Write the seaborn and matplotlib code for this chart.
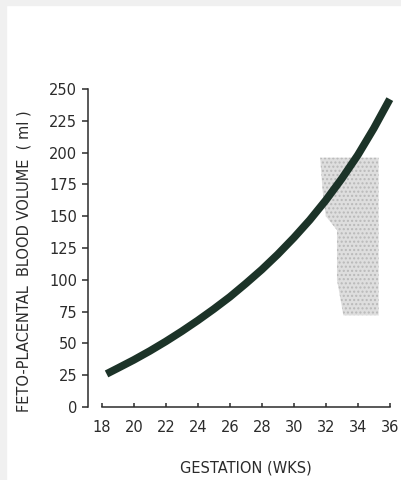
import matplotlib
matplotlib.use("Agg")
import matplotlib.pyplot as plt
from matplotlib.patches import Rectangle
import numpy as np
import pandas as pd
import seaborn as sns

# curve (weeks, ml)
weeks = [18.3, 19, 20, 21, 22, 23, 24, 25, 26, 27, 28, 29, 30, 31, 32, 33, 34, 35, 36]
volume = [26, 30.5, 37, 44, 51.5, 59.5, 68, 77, 86.5, 97, 108, 120, 133, 147,
          162.5, 179.5, 198, 219, 242]

# grey stippled patch on the right (scan shadow)
patch_y = [72, 100, 139, 150, 170, 196]
patch_left = [33.1, 32.7, 32.7, 32.0, 31.8, 31.65]
patch_right = [35.3, 35.3, 35.3, 35.3, 35.3, 35.3]

y_ticks = [0, 25, 50, 75, 100, 125, 150, 175, 200, 225, 250]
x_ticks = [18, 20, 22, 24, 26, 28, 30, 32, 34, 36]

sns.set_style("ticks")
plt.rcParams['font.family'] = ['DejaVu Sans']

ink = "#2b2b2b"
fig = plt.figure(figsize=(4.01, 4.8), dpi=100)
fig.patch.set_facecolor("white")
# light grey strips at the left and top edges of the scan
fig.add_artist(Rectangle((0, 0), 6 / 401, 1, transform=fig.transFigure,
                         color="#f0f0f0", zorder=0))
fig.add_artist(Rectangle((0, 1 - 5 / 480), 1, 5 / 480, transform=fig.transFigure,
                         color="#f0f0f0", zorder=0))

ax = fig.add_axes([88 / 401, 73 / 480, 309.8 / 401, 324.4 / 480])
ax.set_facecolor("none")

ax.fill_betweenx(patch_y, patch_left, patch_right, facecolor="#dedede",
                 edgecolor="#b9b9b9", hatch="....", linewidth=0, zorder=1)

df = pd.DataFrame({"weeks": weeks, "volume": volume})
sns.lineplot(data=df, x="weeks", y="volume", ax=ax, color="#1c3328",
             linewidth=5.5, solid_capstyle="butt", solid_joinstyle="round",
             zorder=3)

ax.set_xlim(17.14, 36.5)
ax.set_ylim(0, 255)
ax.set_xticks(x_ticks)
ax.set_yticks(y_ticks)

sns.despine(ax=ax)
ax.spines["left"].set_bounds(0, 250)
ax.spines["bottom"].set_bounds(18, 36)
for s in ["left", "bottom"]:
    ax.spines[s].set_color(ink)
    ax.spines[s].set_linewidth(1.1)

ax.tick_params(axis="y", direction="out", length=4.3, width=1.1, pad=3.6,
               labelsize=10.5, colors=ink)
ax.tick_params(axis="x", direction="in", length=3, width=1.1, pad=9,
               labelsize=10.5, colors=ink)

ax.set_xlabel("GESTATION (WKS)", fontsize=10.5, color=ink)
ax.set_ylabel("FETO-PLACENTAL  BLOOD VOLUME  ( ml )", fontsize=10.5, color=ink)
ax.xaxis.set_label_coords(0.509, -0.165)
ax.yaxis.set_label_coords(-0.182, 0.45)

fig.savefig("out.png", dpi=100, facecolor="white")
